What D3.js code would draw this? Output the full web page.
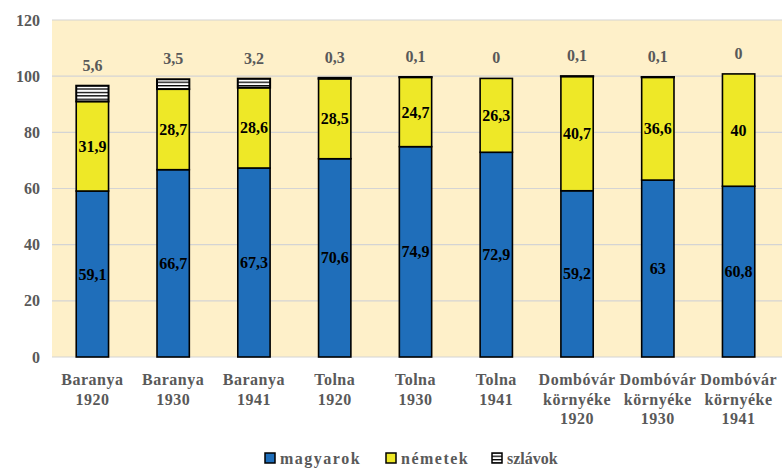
<!DOCTYPE html>
<html><head><meta charset="utf-8">
<script src="https://cdn.jsdelivr.net/npm/d3@7"></script>
<style>body{margin:0;background:#fff}svg{display:block}</style>
</head><body>
<svg id="c" width="782" height="468"></svg>
<script>
const categories = [["Baranya","1920"],["Baranya","1930"],["Baranya","1941"],["Tolna","1920"],["Tolna","1930"],["Tolna","1941"],["Dombóvár","környéke","1920"],["Dombóvár","környéke","1930"],["Dombóvár","környéke","1941"]];
const magyarok = [59.1,66.7,67.3,70.6,74.9,72.9,59.2,63,60.8];
const nemetek = [31.9,28.7,28.6,28.5,24.7,26.3,40.7,36.6,40];
const szlavok = [5.6,3.5,3.2,0.3,0.1,0,0.1,0.1,0];
const seriesNames = ["magyarok","németek","szlávok"];
const yTicks = [0,20,40,60,80,100,120];

const FONT = "Times New Roman";
const svg = d3.select("#c");
const m = {l:52, r:3, t:20, b:111};
const W = 782, H = 468;
const x = d3.scaleBand().domain(d3.range(categories.length)).range([m.l, W - m.r]).paddingInner(0.6).paddingOuter(0.3);
const y = d3.scaleLinear().domain([0,120]).range([H - m.b, m.t]);

function txt(sel, size, color){
  return sel.attr("font-family",FONT).style("font-family",FONT).attr("font-weight","bold").attr("font-size",size).attr("fill",color);
}

const defs = svg.append("defs");
const pat = defs.append("pattern").attr("id","stripes").attr("patternUnits","userSpaceOnUse").attr("width",8).attr("height",3.4);
pat.append("rect").attr("width",8).attr("height",3.4).attr("fill","#fff");
pat.append("rect").attr("width",8).attr("height",1.3).attr("fill","#000");

svg.append("rect").attr("x",m.l).attr("y",m.t).attr("width",W-m.l).attr("height",y(0)-m.t).attr("fill","#FEF0C9");

svg.append("g").selectAll("line").data(yTicks).join("line")
  .attr("x1",m.l).attr("x2",W).attr("y1",d=>y(d)).attr("y2",d=>y(d))
  .attr("stroke","#D4D4D4").attr("stroke-width",1.2);

const yAxis = d3.axisLeft(y).tickValues(yTicks).tickSize(0).tickPadding(12);
const ga = svg.append("g").attr("transform",`translate(${m.l},0)`).call(yAxis);
ga.select(".domain").remove();
ga.attr("font-family",FONT).attr("font-size",16);
txt(ga.selectAll("text"),16,"#595959");

const stack = d3.stack().keys([0,1,2]).value((d,k)=>[magyarok,nemetek,szlavok][k][d]);
const layers = stack(d3.range(categories.length));
const fills = ["#1F6EBA","#EEE827","url(#stripes)"];

layers.forEach((layer,k)=>{
  svg.append("g").selectAll("rect").data(layer).join("rect")
    .attr("x",(d,i)=>x(i)).attr("width",x.bandwidth())
    .attr("y",d=>y(d[1])).attr("height",d=>Math.max(0,y(d[0])-y(d[1])))
    .attr("fill",fills[k]).attr("stroke","#000").attr("stroke-width",k===2?2:1.6);
});

const fmt = v => String(v).replace(".",",");
[0,1].forEach(k=>{
  txt(svg.append("g").selectAll("text").data(layers[k]).join("text")
    .attr("x",(d,i)=>x(i)+x.bandwidth()/2).attr("y",d=>(y(d[0])+y(d[1]))/2)
    .attr("dy","0.35em").attr("text-anchor","middle"),16,"#000")
    .text((d,i)=>fmt([magyarok,nemetek][k][i]));
});
txt(svg.append("g").selectAll("text").data(layers[2]).join("text")
  .attr("x",(d,i)=>x(i)+x.bandwidth()/2).attr("y",d=>y(d[1])-15)
  .attr("text-anchor","middle"),16,"#595959")
  .text((d,i)=>fmt(szlavok[i]));

const xl = txt(svg.append("g").selectAll("text").data(categories).join("text")
  .attr("x",(d,i)=>x(i)+x.bandwidth()/2).attr("y",385)
  .attr("text-anchor","middle"),16,"#595959")
  .attr("letter-spacing",0.5);
xl.selectAll("tspan").data(d=>d).join("tspan")
  .attr("x",function(){return this.parentNode.getAttribute("x");})
  .attr("dy",(d,j)=>j===0?0:19.5).text(d=>d);

const legX = [265,386,492];
const lg = svg.append("g");
seriesNames.forEach((n,k)=>{
  lg.append("rect").attr("x",legX[k]).attr("y",453).attr("width",10).attr("height",10)
    .attr("fill",fills[k]).attr("stroke","#000").attr("stroke-width",1.5);
  txt(lg.append("text").attr("x",legX[k]+15).attr("y",464),16,"#595959")
    .attr("letter-spacing",k===2?0:1.5).text(n);
});
</script>
</body></html>
